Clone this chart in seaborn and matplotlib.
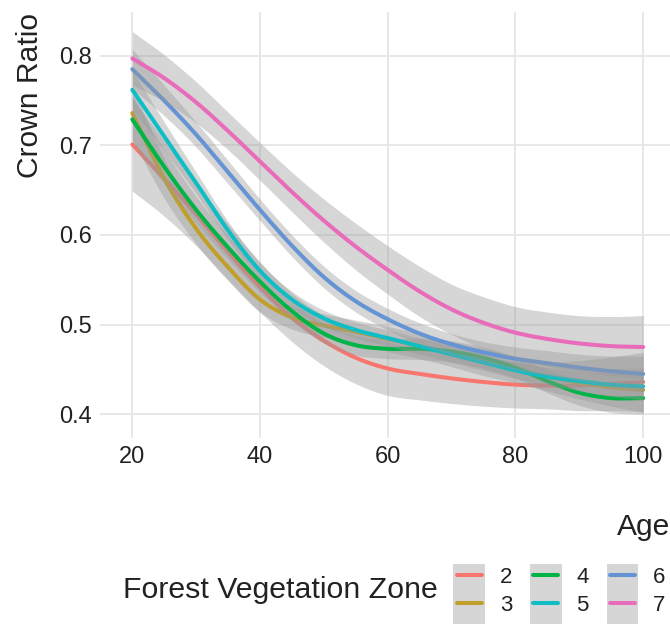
import numpy as np
import pandas as pd
import matplotlib
matplotlib.use("Agg")
import matplotlib.pyplot as plt
import seaborn as sns
from matplotlib.lines import Line2D
from matplotlib.patches import Rectangle

# ---- data ----
age = [20, 25, 30, 35, 40, 45, 50, 55, 60, 65, 70, 75, 80, 85, 90, 95, 100]
zones = ["2", "3", "4", "5", "6", "7"]

cr_2 = [0.701, 0.663, 0.623, 0.581, 0.542, 0.508, 0.482, 0.463, 0.451, 0.445, 0.440, 0.436, 0.433, 0.432, 0.432, 0.434, 0.436]
cr_3 = [0.736, 0.663, 0.607, 0.564, 0.528, 0.508, 0.499, 0.492, 0.484, 0.476, 0.467, 0.458, 0.450, 0.442, 0.435, 0.430, 0.427]
cr_4 = [0.729, 0.676, 0.628, 0.586, 0.548, 0.515, 0.490, 0.477, 0.473, 0.473, 0.470, 0.463, 0.452, 0.437, 0.424, 0.418, 0.418]
cr_5 = [0.762, 0.710, 0.658, 0.605, 0.560, 0.528, 0.507, 0.494, 0.485, 0.476, 0.467, 0.458, 0.449, 0.442, 0.437, 0.433, 0.431]
cr_6 = [0.785, 0.750, 0.712, 0.670, 0.628, 0.588, 0.553, 0.526, 0.506, 0.490, 0.478, 0.469, 0.462, 0.457, 0.452, 0.448, 0.445]
cr_7 = [0.797, 0.775, 0.748, 0.716, 0.682, 0.648, 0.616, 0.587, 0.561, 0.537, 0.517, 0.502, 0.491, 0.484, 0.479, 0.476, 0.475]

se_2 = [0.052, 0.042, 0.035, 0.031, 0.028, 0.027, 0.028, 0.029, 0.030, 0.029, 0.028, 0.027, 0.026, 0.026, 0.028, 0.030, 0.033]
se_3 = [0.030, 0.022, 0.017, 0.015, 0.014, 0.013, 0.013, 0.013, 0.014, 0.014, 0.014, 0.015, 0.015, 0.016, 0.018, 0.021, 0.025]
se_4 = [0.026, 0.019, 0.015, 0.013, 0.012, 0.011, 0.011, 0.011, 0.011, 0.012, 0.012, 0.012, 0.012, 0.013, 0.014, 0.016, 0.018]
se_5 = [0.022, 0.016, 0.012, 0.010, 0.009, 0.009, 0.009, 0.009, 0.009, 0.009, 0.009, 0.009, 0.009, 0.010, 0.011, 0.013, 0.015]
se_6 = [0.022, 0.017, 0.014, 0.013, 0.012, 0.012, 0.012, 0.012, 0.012, 0.012, 0.012, 0.012, 0.013, 0.014, 0.015, 0.017, 0.020]
se_7 = [0.030, 0.026, 0.023, 0.021, 0.021, 0.022, 0.024, 0.026, 0.027, 0.028, 0.028, 0.029, 0.029, 0.030, 0.031, 0.033, 0.035]

x_ticks = [20, 40, 60, 80, 100]
y_ticks = [0.4, 0.5, 0.6, 0.7, 0.8]

colors = ["#F8766D", "#C09F2A", "#00B447", "#0FBDC4", "#6494D4", "#E86CB9"]

means = [cr_2, cr_3, cr_4, cr_5, cr_6, cr_7]
ses = [se_2, se_3, se_4, se_5, se_6, se_7]


def hermite_smooth(x, y, per=12):
    """Smooth curve through the read points (cubic Hermite, Catmull-Rom tangents)."""
    x = np.asarray(x, float)
    y = np.asarray(y, float)
    m = np.empty_like(y)
    m[1:-1] = (y[2:] - y[:-2]) / (x[2:] - x[:-2])
    m[0] = (y[1] - y[0]) / (x[1] - x[0])
    m[-1] = (y[-1] - y[-2]) / (x[-1] - x[-2])
    xs, ys = [], []
    for i in range(len(x) - 1):
        h = x[i + 1] - x[i]
        t = np.linspace(0, 1, per, endpoint=False)
        h00 = 2 * t**3 - 3 * t**2 + 1
        h10 = t**3 - 2 * t**2 + t
        h01 = -2 * t**3 + 3 * t**2
        h11 = t**3 - t**2
        xs.append(x[i] + t * h)
        ys.append(h00 * y[i] + h10 * h * m[i] + h01 * y[i + 1] + h11 * h * m[i + 1])
    xs.append([x[-1]])
    ys.append([y[-1]])
    return np.concatenate(xs), np.concatenate(ys)


frames = []
for z, mvals, svals in zip(zones, means, ses):
    xs, ms = hermite_smooth(age, mvals)
    _, ss = hermite_smooth(age, svals)
    frames.append(pd.DataFrame({"Age": xs, "Crown Ratio": ms, "se": ss, "Zone": z}))
df = pd.concat(frames, ignore_index=True)

# ---- style ----
sns.set_theme(style="whitegrid")
plt.rcParams["font.family"] = ["Liberation Sans", "DejaVu Sans"]
TXT = "#222222"

W, H = 670, 624
fig = plt.figure(figsize=(W / 100, H / 100), dpi=100)
ax = fig.add_axes([100 / W, 1 - 438 / H, (670 - 100) / W, (438 - 12) / H])

band_color = (0.6, 0.6, 0.6, 0.4)
for i, (z, c) in enumerate(zip(zones, colors)):
    sub = df[df["Zone"] == z]
    ax.fill_between(sub["Age"], sub["Crown Ratio"] - sub["se"], sub["Crown Ratio"] + sub["se"],
                    color=band_color, linewidth=0, zorder=2 + 2 * i)
    sns.lineplot(data=sub, x="Age", y="Crown Ratio", color=c, linewidth=2.9,
                 ax=ax, zorder=3 + 2 * i, legend=False, sort=False)

ax.set_xlim(14.94, 104.2)
ax.set_ylim(0.3735, 0.8488)
ax.set_xticks(x_ticks)
ax.set_xticklabels([str(t) for t in x_ticks])
ax.set_yticks(y_ticks)
ax.set_yticklabels([f"{t:.1f}" for t in y_ticks])
ax.grid(True, color="#E6E6E6", linewidth=1.3)
ax.set_facecolor("white")
for sp in ax.spines.values():
    sp.set_visible(False)
ax.tick_params(axis="both", length=0, labelsize=17, colors=TXT)
ax.tick_params(axis="x", pad=6)
ax.tick_params(axis="y", pad=6)
ax.set_xlabel("")
ax.set_ylabel("")

fig.text(30 / W, 1 - 13 / H, "Crown Ratio", rotation=90, ha="center", va="top",
         fontsize=21.6, color=TXT)
fig.text(670 / W, 1 - 527 / H, "Age", ha="right", va="center",
         fontsize=21.6, color=TXT)

# ---- legend ----
for x0 in (453.3, 530.0, 606.7):
    fig.add_artist(Rectangle((x0 / W, 0), 31.7 / W, (624 - 564) / H,
                             transform=fig.transFigure, facecolor="#D6D6D6",
                             edgecolor="none", zorder=1))
handles = [Line2D([], [], color=c, linewidth=2.9) for c in colors]
leg = fig.legend(handles, zones, ncol=3, loc="upper left",
                 bbox_to_anchor=(456.7 / W, 1 - 567 / H), frameon=False,
                 fontsize=16, handlelength=1.125, labelspacing=0.3,
                 handletextpad=0.82, columnspacing=0.94,
                 borderpad=0, borderaxespad=0)
leg.set_zorder(5)
for t in leg.get_texts():
    t.set_color(TXT)
fig.text(437.3 / W, 1 - 598 / H, "Forest Vegetation Zone", ha="right", va="baseline",
         fontsize=21.8, color=TXT)

fig.savefig("out.png", dpi=100)
